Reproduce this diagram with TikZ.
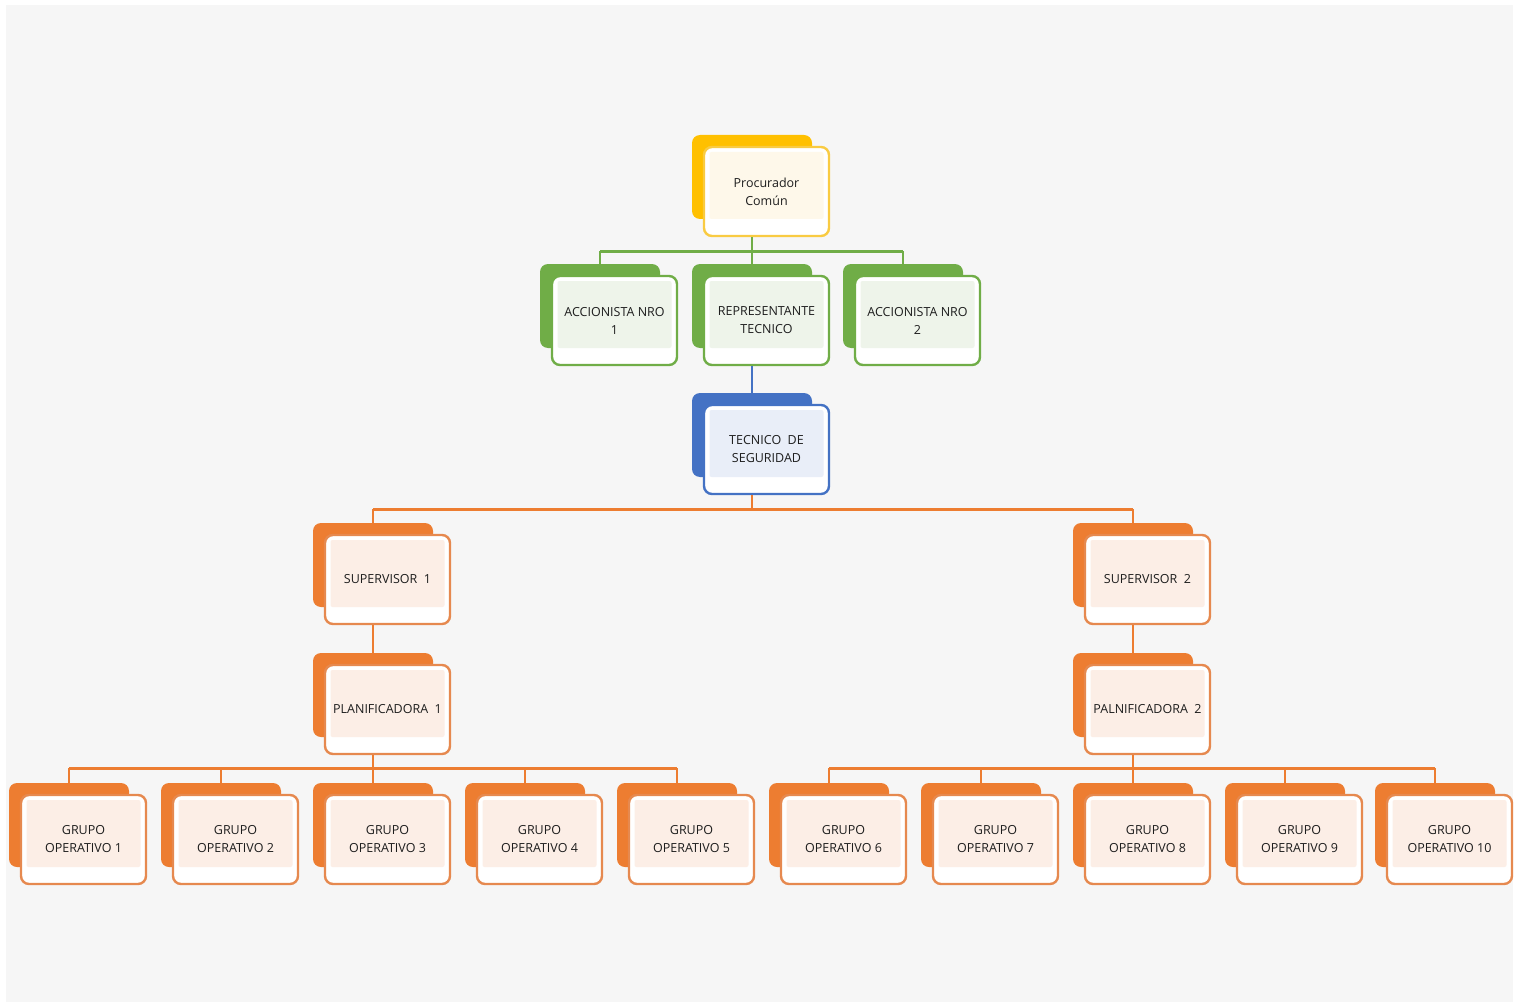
\documentclass[tikz,border=0pt]{standalone}
\usepackage{fontspec}
\setmainfont{Open Sans}
\definecolor{bgcol}{HTML}{F6F6F6}
\definecolor{ycol}{HTML}{FFC000}
\definecolor{yb}{HTML}{F9CB42}
\definecolor{yt}{HTML}{FEF8EA}
\definecolor{gcol}{HTML}{70AD47}
\definecolor{gt}{HTML}{EEF4EA}
\definecolor{bcol}{HTML}{4472C4}
\definecolor{bt}{HTML}{E9EEF8}
\definecolor{ocol}{HTML}{ED7D31}
\definecolor{ob}{HTML}{E6894F}
\definecolor{ot}{HTML}{FCEEE6}
\definecolor{txt}{HTML}{1E1E1E}
\tikzset{
  backbox/.style={draw=none, rounded corners=8pt, minimum width=120pt, minimum height=84pt, inner sep=0pt},
  frontbox/.style={rounded corners=8pt, minimum width=125pt, minimum height=89pt, inner sep=0pt, line width=2.4pt, fill=white},
  tintbox/.style={draw=none, minimum width=114pt, minimum height=67pt, inner sep=0pt, rounded corners=2pt},
  lbl/.style={font=\fontsize{12.5}{18}\selectfont, align=center, text=txt, inner sep=0pt},
  link/.style={line width=2.6pt}
}
\newcommand\orgbox[7]{%
  \node[backbox, fill=#4] (#1b) at ({#2+60},{-#3-42}) {};
  \node[frontbox, draw=#5] (#1) at ({#2+74.5},{-#3-56.5}) {};
  \node[tintbox, fill=#6] at ({#2+74.5},{-#3-50.5}) {};
  \node[lbl] (#1t) at (#1.center) {#7};
}
\begin{document}
\begin{tikzpicture}[x=1pt,y=1pt]
\useasboundingbox (0,0) rectangle (1515,-1003);
\fill[white] (0,0) rectangle (1515,-1003);
\fill[bgcol] (6,-5) rectangle (1513,-1002);

\orgbox{pc}{692}{135}{ycol}{yb}{yt}{Procurador\\Común}
\orgbox{aa}{540}{264}{gcol}{gcol}{gt}{ACCIONISTA NRO\\1}
\orgbox{rt}{692}{264}{gcol}{gcol}{gt}{REPRESENTANTE\\TECNICO}
\orgbox{ab}{843}{264}{gcol}{gcol}{gt}{ACCIONISTA NRO\\2}
\orgbox{ts}{692}{393}{bcol}{bcol}{bt}{TECNICO\ \ DE\\SEGURIDAD}
\orgbox{sa}{313}{523}{ocol}{ob}{ot}{SUPERVISOR\ \ 1}
\orgbox{sb}{1073}{523}{ocol}{ob}{ot}{SUPERVISOR\ \ 2}
\orgbox{pla}{313}{653}{ocol}{ob}{ot}{PLANIFICADORA\ \ 1}
\orgbox{plb}{1073}{653}{ocol}{ob}{ot}{PALNIFICADORA\ \ 2}
\orgbox{g1}{9}{783}{ocol}{ob}{ot}{GRUPO\\OPERATIVO 1}
\orgbox{g2}{161}{783}{ocol}{ob}{ot}{GRUPO\\OPERATIVO 2}
\orgbox{g3}{313}{783}{ocol}{ob}{ot}{GRUPO\\OPERATIVO 3}
\orgbox{g4}{465}{783}{ocol}{ob}{ot}{GRUPO\\OPERATIVO 4}
\orgbox{g5}{617}{783}{ocol}{ob}{ot}{GRUPO\\OPERATIVO 5}
\orgbox{g6}{769}{783}{ocol}{ob}{ot}{GRUPO\\OPERATIVO 6}
\orgbox{g7}{921}{783}{ocol}{ob}{ot}{GRUPO\\OPERATIVO 7}
\orgbox{g8}{1073}{783}{ocol}{ob}{ot}{GRUPO\\OPERATIVO 8}
\orgbox{g9}{1225}{783}{ocol}{ob}{ot}{GRUPO\\OPERATIVO 9}
\orgbox{g10}{1375}{783}{ocol}{ob}{ot}{GRUPO\\OPERATIVO 10}

% green
\draw[link,gcol] (pc.south -| pcb.north) -- ++(0,-14) coordinate (busA);
\draw[link,gcol] (busA -| aab.north) -- (busA -| abb.north);
\foreach \n in {aa,rt,ab} \draw[link,gcol] (busA -| \n b.north) -- (\n b.north);
% blue
\draw[link,bcol] (rt.south -| rtb.north) -- (tsb.north);
% orange
\draw[link,ocol] (ts.south -| tsb.north) -- ++(0,-14) coordinate (busB);
\draw[link,ocol] (busB -| sab.north) -- (busB -| sbb.north);
\foreach \n in {sa,sb} \draw[link,ocol] (busB -| \n b.north) -- (\n b.north);
\draw[link,ocol] (sa.south -| sab.north) -- (plab.north);
\draw[link,ocol] (sb.south -| sbb.north) -- (plbb.north);
\draw[link,ocol] (pla.south -| plab.north) -- ++(0,-13) coordinate (busC);
\draw[link,ocol] (busC -| g1b.north) -- (busC -| g5b.north);
\foreach \n in {g1,g2,g3,g4,g5} \draw[link,ocol] (busC -| \n b.north) -- (\n b.north);
\draw[link,ocol] (plb.south -| plbb.north) -- ++(0,-13) coordinate (busD);
\draw[link,ocol] (busD -| g6b.north) -- (busD -| g10b.north);
\foreach \n in {g6,g7,g8,g9,g10} \draw[link,ocol] (busD -| \n b.north) -- (\n b.north);
\end{tikzpicture}
\end{document}
